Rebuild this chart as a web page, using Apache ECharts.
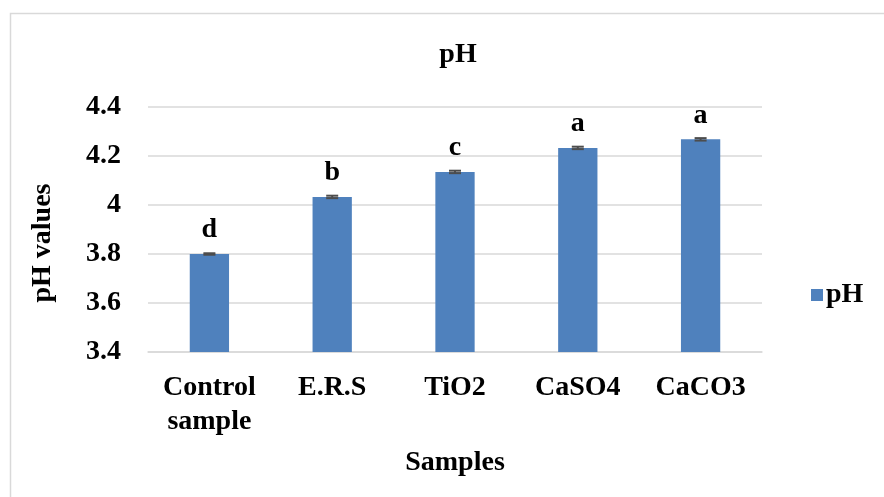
<!DOCTYPE html>
<html>
<head>
<meta charset="utf-8">
<script src="https://cdn.jsdelivr.net/npm/echarts@6/dist/echarts.min.js"></script>
<style>
  html, body { margin: 0; padding: 0; background: #fff; }
  #chart { width: 884px; height: 497px; }
</style>
</head>
<body>
<div id="chart"></div>
<script>
// Sample groups and their measured pH
const categories = ['Control\nsample', 'E.R.S', 'TiO2', 'CaSO4', 'CaCO3'];
const phValues = [3.80, 4.033, 4.135, 4.233, 4.268];
const phErrors = [0.003, 0.005, 0.005, 0.005, 0.005];
const groupLetters = ['d', 'b', 'c', 'a', 'a'];
const yTicks = { min: 3.4, max: 4.4, step: 0.2 };

const FONT = '"Liberation Serif", "Times New Roman", serif';
const FS = 28;
const BAR_COLOR = '#4F81BD';
const GRID_COLOR = '#D9D9D9';

const chart = echarts.init(document.getElementById('chart'), null, { renderer: 'canvas' });

const errorData = phValues.map((v, i) => [i, v - phErrors[i], v + phErrors[i]]);

chart.setOption({
  animation: false,
  backgroundColor: '#fff',
  title: {
    text: 'pH',
    left: 453,
    top: 36,
    textAlign: 'center',
    textStyle: { fontFamily: FONT, fontWeight: 'bold', fontSize: FS, color: '#000' }
  },
  legend: {
    data: ['pH'],
    left: 806,
    top: 276,
    itemWidth: 12,
    itemHeight: 12,
    itemGap: 4,
    icon: 'rect',
    textStyle: { fontFamily: FONT, fontWeight: 'bold', fontSize: FS, color: '#000', padding: [0, 0, 0, -2] }
  },
  grid: { left: 148, right: 122, top: 107, bottom: 145 },
  xAxis: {
    type: 'category',
    data: categories,
    axisLine: { lineStyle: { color: GRID_COLOR, width: 1.5 } },
    axisTick: { show: false },
    axisLabel: {
      fontFamily: FONT, fontWeight: 'bold', fontSize: FS, color: '#000',
      lineHeight: 34, margin: 19, interval: 0
    },
    name: 'Samples',
    nameLocation: 'middle',
    nameGap: 97,
    nameTextStyle: { fontFamily: FONT, fontWeight: 'bold', fontSize: FS, color: '#000' }
  },
  yAxis: {
    type: 'value',
    min: yTicks.min,
    max: yTicks.max,
    interval: yTicks.step,
    axisLine: { show: false },
    axisTick: { show: false },
    splitLine: { lineStyle: { color: GRID_COLOR, width: 1.5 } },
    axisLabel: {
      fontFamily: FONT, fontWeight: 'bold', fontSize: FS, color: '#000', margin: 27,
      formatter: v => String(Math.round(v * 10) / 10)
    }
  },
  graphic: [
    {
      type: 'rect',
      shape: { x: 10.5, y: 13.5, width: 900, height: 520 },
      style: { fill: 'none', stroke: '#D9D9D9', lineWidth: 1.5 },
      silent: true
    },
    {
      type: 'text',
      x: 43, y: 243,
      rotation: Math.PI / 2,
      style: {
        text: 'pH values',
        fontFamily: FONT, fontWeight: 'bold', fontSize: FS, fill: '#000',
        align: 'center', verticalAlign: 'middle'
      }
    }
  ],
  series: [
    {
      name: 'pH',
      type: 'bar',
      data: phValues,
      barWidth: '32%',
      itemStyle: { color: BAR_COLOR },
      label: {
        show: true,
        position: 'top',
        distance: 10,
        formatter: p => groupLetters[p.dataIndex],
        fontFamily: FONT, fontWeight: 'bold', fontSize: FS, color: '#000'
      }
    },
    {
      name: 'error',
      type: 'custom',
      data: errorData,
      z: 10,
      renderItem: (params, api) => {
        const x = api.value(0);
        const lo = api.coord([x, api.value(1)]);
        const hi = api.coord([x, api.value(2)]);
        const half = 6;
        const style = { stroke: '#4d4d4d', lineWidth: 2 };
        return {
          type: 'group',
          children: [
            { type: 'line', shape: { x1: lo[0], y1: lo[1], x2: hi[0], y2: hi[1] }, style },
            { type: 'line', shape: { x1: lo[0] - half, y1: lo[1], x2: lo[0] + half, y2: lo[1] }, style },
            { type: 'line', shape: { x1: hi[0] - half, y1: hi[1], x2: hi[0] + half, y2: hi[1] }, style }
          ]
        };
      }
    }
  ]
});
</script>
</body>
</html>
